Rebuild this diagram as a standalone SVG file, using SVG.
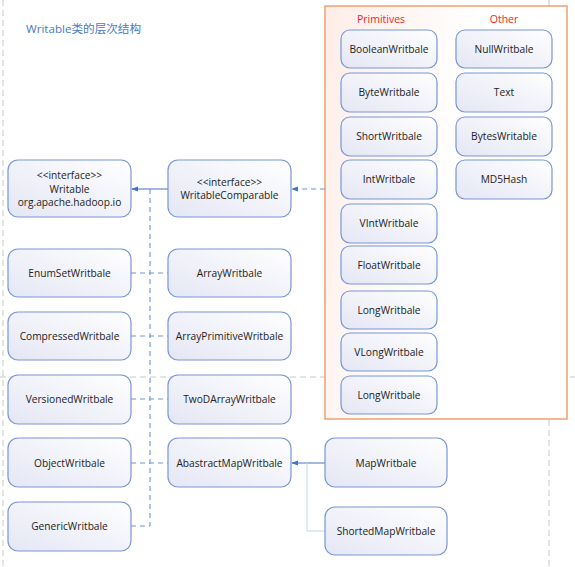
<svg xmlns="http://www.w3.org/2000/svg" width="575" height="567" viewBox="0 0 575 567">
<defs>
<linearGradient id="ng" x1="1" y1="0" x2="0" y2="1">
<stop offset="0" stop-color="#ffffff"/>
<stop offset="1" stop-color="#e4e6f4"/>
</linearGradient>
<linearGradient id="og" x1="0" y1="0" x2="1" y2="0.3">
<stop offset="0" stop-color="#fdede7"/>
<stop offset="0.6" stop-color="#ffffff"/>
</linearGradient>
<marker id="ah" viewBox="0 0 8 8" refX="7" refY="4" markerWidth="7" markerHeight="7" orient="auto" markerUnits="userSpaceOnUse">
<path d="M0,1 L8,4 L0,7 Z" fill="#4472c4"/>
</marker>
<style>
.n rect{fill:url(#ng);stroke:#7896d6;stroke-width:1.2}
.n text{font-family:"Open Sans","Noto Sans",sans-serif;font-size:10.2px;fill:#222;text-anchor:middle}
.d{stroke:#6f93dc;stroke-width:1.1;stroke-dasharray:5,4;fill:none}
.s{stroke:#4472c4;stroke-width:1.1;fill:none}
.g{stroke:#c8c8c8;stroke-width:1;stroke-dasharray:6,4;fill:none}
.lbl{font-family:"Open Sans","Noto Sans",sans-serif;font-size:10.5px;fill:#ff2020;text-anchor:middle}
</style>
</defs>
<rect width="575" height="567" fill="#ffffff"/>
<g id="guides">
<line class="g" x1="3" y1="0" x2="3" y2="567" stroke-dasharray="2,2" stroke="#dcdcdc"/>
<line class="g" x1="549" y1="0" x2="549" y2="567"/>
<line class="g" x1="0" y1="377" x2="575" y2="377"/>
</g>
<text x="26" y="33" font-family="Open Sans, Noto Sans CJK SC, sans-serif" font-size="11.6" fill="#4a78c8">Writable类的层次结构</text>
<g id="group-box">
<rect x="325" y="6" width="242" height="413" fill="url(#og)" stroke="#f0a070" stroke-width="1.5"/>
<text class="lbl" x="381" y="23">Primitives</text>
<text class="lbl" x="504" y="23">Other</text>
</g>
<g id="connectors">
<line class="s" x1="168" y1="189" x2="132" y2="189" marker-end="url(#ah)"/>
<line class="d" x1="325" y1="189" x2="292" y2="189" marker-end="url(#ah)"/>
<line class="d" x1="150" y1="189" x2="150" y2="526"/>
<line class="d" x1="131" y1="273" x2="168" y2="273"/>
<line class="d" x1="131" y1="336" x2="168" y2="336"/>
<line class="d" x1="131" y1="399" x2="168" y2="399"/>
<line class="d" x1="131" y1="463" x2="168" y2="463"/>
<line class="d" x1="131" y1="526" x2="150" y2="526"/>
<line class="s" x1="325" y1="463" x2="292" y2="463" marker-end="url(#ah)"/>
<polyline points="325,531 307,531 307,463" fill="none" stroke="#c8d4f0" stroke-width="1"/>
</g>
<g id="writable" class="n"><rect x="8" y="160" width="123" height="57" rx="10"/><text x="69.5" y="179">&lt;&lt;interface&gt;&gt;</text><text x="69.5" y="192.5">Writable</text><text x="69.5" y="206">org.apache.hadoop.io</text></g>
<g id="writablecomparable" class="n"><rect x="168" y="160" width="123" height="57" rx="10"/><text x="229.5" y="185.5">&lt;&lt;interface&gt;&gt;</text><text x="229.5" y="199">WritableComparable</text></g>
<g id="enumset" class="n"><rect x="8" y="249" width="123" height="48" rx="10"/><text x="69.5" y="276.5">EnumSetWritbale</text></g>
<g id="arraywritable" class="n"><rect x="168" y="249" width="123" height="48" rx="10"/><text x="229.5" y="276.5">ArrayWritbale</text></g>
<g id="compressed" class="n"><rect x="8" y="312" width="123" height="48" rx="10"/><text x="69.5" y="339.5">CompressedWritbale</text></g>
<g id="arrayprimitive" class="n"><rect x="168" y="312" width="123" height="48" rx="10"/><text x="229.5" y="339.5">ArrayPrimitiveWritbale</text></g>
<g id="versioned" class="n"><rect x="8" y="375" width="123" height="49" rx="10"/><text x="69.5" y="402.5">VersionedWritbale</text></g>
<g id="twodarray" class="n"><rect x="168" y="375" width="123" height="49" rx="10"/><text x="229.5" y="402.5">TwoDArrayWritbale</text></g>
<g id="object" class="n"><rect x="8" y="438" width="123" height="49" rx="10"/><text x="69.5" y="466.5">ObjectWritbale</text></g>
<g id="abstractmap" class="n"><rect x="168" y="438" width="123" height="49" rx="10"/><text x="229.5" y="466.5">AbastractMapWritbale</text></g>
<g id="generic" class="n"><rect x="8" y="502" width="123" height="49" rx="10"/><text x="69.5" y="529.5">GenericWritbale</text></g>
<g id="mapwritable" class="n"><rect x="325" y="438" width="122" height="49" rx="10"/><text x="386" y="466.5">MapWritbale</text></g>
<g id="shortedmap" class="n"><rect x="325" y="507" width="122" height="48" rx="10"/><text x="386" y="534.5">ShortedMapWritbale</text></g>
<g id="boolean" class="n"><rect x="341" y="30" width="96" height="38" rx="9"/><text x="389" y="52.5">BooleanWritbale</text></g>
<g id="byte" class="n"><rect x="341" y="73" width="96" height="39" rx="9"/><text x="389" y="96">ByteWritbale</text></g>
<g id="short" class="n"><rect x="341" y="117" width="96" height="39" rx="9"/><text x="389" y="140">ShortWritbale</text></g>
<g id="int" class="n"><rect x="341" y="160" width="96" height="39" rx="9"/><text x="389" y="183">IntWritbale</text></g>
<g id="vint" class="n"><rect x="341" y="204" width="96" height="39" rx="9"/><text x="389" y="227">VIntWritbale</text></g>
<g id="float" class="n"><rect x="341" y="246" width="96" height="38" rx="9"/><text x="389" y="268.5">FloatWritbale</text></g>
<g id="long" class="n"><rect x="341" y="291" width="96" height="38" rx="9"/><text x="389" y="313.5">LongWritbale</text></g>
<g id="vlong" class="n"><rect x="341" y="333" width="96" height="38" rx="9"/><text x="389" y="355.5">VLongWritbale</text></g>
<g id="long2" class="n"><rect x="341" y="376" width="96" height="38" rx="9"/><text x="389" y="398.5">LongWritbale</text></g>
<g id="null" class="n"><rect x="456" y="30" width="96" height="38" rx="9"/><text x="504" y="52.5">NullWritbale</text></g>
<g id="text" class="n"><rect x="456" y="73" width="96" height="39" rx="9"/><text x="504" y="96">Text</text></g>
<g id="bytes" class="n"><rect x="456" y="117" width="96" height="39" rx="9"/><text x="504" y="140">BytesWritable</text></g>
<g id="md5" class="n"><rect x="456" y="160" width="96" height="39" rx="9"/><text x="504" y="183">MD5Hash</text></g>
</svg>
